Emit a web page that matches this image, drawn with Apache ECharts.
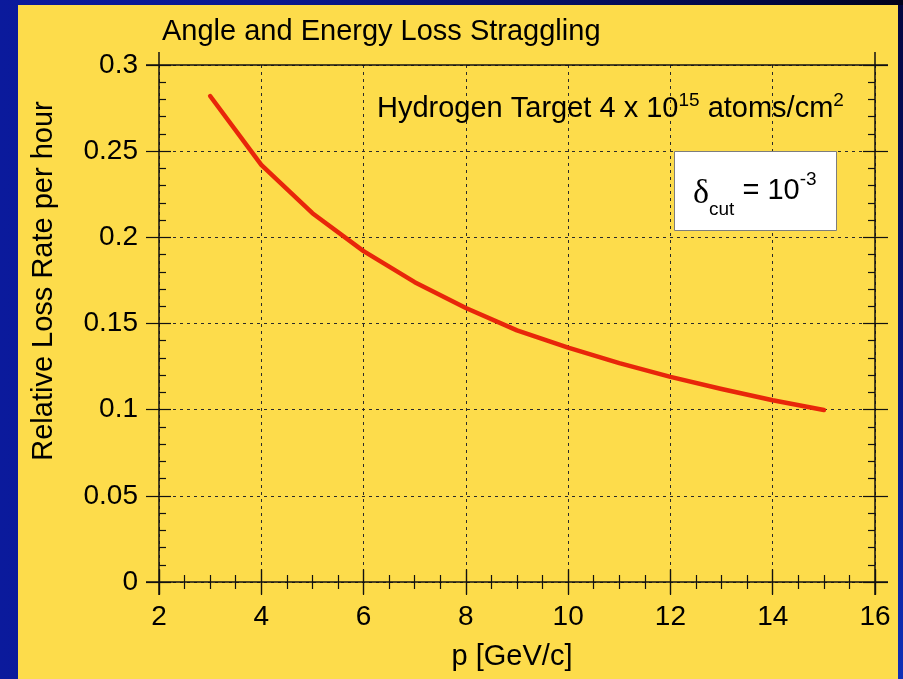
<!DOCTYPE html>
<html>
<head>
<meta charset="utf-8">
<title>Angle and Energy Loss Straggling</title>
<script src="https://cdn.jsdelivr.net/npm/echarts@6/dist/echarts.min.js"></script>
<style>
  html, body { margin: 0; padding: 0; }
  body {
    width: 903px; height: 679px; overflow: hidden; position: relative;
    background: linear-gradient(to right, #0b1a9c 0%, #0a1890 30%, #061066 60%, #020740 85%, #01031c 100%);
  }
  #panel {
    position: absolute; left: 18px; top: 5px; width: 880px; height: 674px;
    background: #fddc4b;
  }
  #edge {
    position: absolute; left: 898px; top: 5px; width: 5px; height: 674px;
    background: linear-gradient(to bottom, #020740 0%, #0a1a8c 60%, #1030b8 100%);
  }
  #chart { position: absolute; left: 0; top: 0; width: 903px; height: 679px; }
</style>
</head>
<body>
<div id="panel"></div>
<div id="edge"></div>
<div id="chart"></div>
<script>
// Momentum p [GeV/c] and relative loss rate per hour
const momentum = [3, 4, 5, 6, 7, 8, 9, 10, 11, 12, 13, 14, 15];
const lossRate = [0.282, 0.242, 0.214, 0.192, 0.174, 0.159, 0.146, 0.136, 0.127, 0.119, 0.112, 0.1055, 0.0998];

// Axis ranges and ticks
const xRange = { min: 2, max: 16, interval: 2 };
const yRange = { min: 0, max: 0.3, interval: 0.05 };

const FONT = '"Liberation Sans", Arial, Helvetica, sans-serif';
const INK = '#111';

const chart = echarts.init(document.getElementById('chart'), null, { renderer: 'canvas' });

const tickStyle = { color: INK, width: 1.2 };
const gridLine = { show: true, lineStyle: { color: '#2a2a2a', width: 1, type: [3, 4] } };

// One axis per side draws the outward half of major ticks (and labels),
// a twin on the same side draws the inward half plus minor ticks.
function outerAxis(range, position, extra) {
  return Object.assign({
    type: 'value', position: position,
    min: range.min, max: range.max, interval: range.interval,
    axisLine: { show: false },
    axisTick: { show: true, inside: false, length: 13, lineStyle: tickStyle },
    minorTick: { show: false },
    splitLine: { show: false },
    axisLabel: { show: false }
  }, extra || {});
}
function innerAxis(range, position, minorSplit) {
  return {
    type: 'value', position: position,
    min: range.min, max: range.max, interval: range.interval,
    axisLine: { show: false },
    axisTick: { show: true, inside: true, length: 12, lineStyle: tickStyle },
    minorTick: { show: true, splitNumber: minorSplit, length: 7, lineStyle: tickStyle },
    splitLine: { show: false },
    axisLabel: { show: false }
  };
}

const labelStyle = { show: true, color: '#000', fontFamily: FONT, fontSize: 28 };

const option = {
  backgroundColor: 'transparent',
  animation: false,
  grid: {
    left: 159, top: 65, width: 716, height: 517,
    containLabel: false, outerBoundsMode: 'none'
  },
  xAxis: [
    outerAxis(xRange, 'bottom', {
      axisLabel: Object.assign({}, labelStyle, { margin: 21 }),
      splitLine: gridLine
    }),
    innerAxis(xRange, 'bottom', 4),
    outerAxis(xRange, 'top'),
    innerAxis(xRange, 'top', 4)
  ],
  yAxis: [
    outerAxis(yRange, 'left', {
      axisLabel: Object.assign({}, labelStyle, { margin: 21 }),
      splitLine: gridLine
    }),
    innerAxis(yRange, 'left', 5),
    outerAxis(yRange, 'right'),
    innerAxis(yRange, 'right', 5)
  ],
  series: [{
    type: 'line',
    xAxisIndex: 0, yAxisIndex: 0,
    data: momentum.map((p, i) => [p, lossRate[i]]),
    showSymbol: false,
    smooth: false,
    lineStyle: { color: '#e8260a', width: 4.5, cap: 'round', join: 'round' },
    z: 5
  }]
};

chart.setOption(option);

// Frame lines, running a little past the plot corners
const xl = chart.convertToPixel({ xAxisIndex: 0 }, xRange.min);
const xr = chart.convertToPixel({ xAxisIndex: 0 }, xRange.max);
const yb = chart.convertToPixel({ yAxisIndex: 0 }, yRange.min);
const yt = chart.convertToPixel({ yAxisIndex: 0 }, yRange.max);
const EXT = 13;
const frameStyle = { stroke: INK, lineWidth: 1.5 };
function seg(x1, y1, x2, y2) {
  return { type: 'line', shape: { x1: x1, y1: y1, x2: x2, y2: y2 }, style: frameStyle, z: 3, silent: true };
}

chart.setOption({
  graphic: [
    seg(xl - EXT, yb, xr + EXT, yb),
    seg(xl - EXT, yt, xr + EXT, yt),
    seg(xl, yt - EXT, xl, yb + EXT),
    seg(xr, yt - EXT, xr, yb + EXT),
    {
      type: 'text', x: 162, y: 31.5, z: 10,
      style: { text: 'Angle and Energy Loss Straggling', font: '29px ' + FONT, fill: '#000', align: 'left', verticalAlign: 'middle' }
    },
    {
      type: 'text', x: 512, y: 657, z: 10,
      style: { text: 'p [GeV/c]', font: '29px ' + FONT, fill: '#000', align: 'center', verticalAlign: 'middle' }
    },
    {
      type: 'text', x: 43.5, y: 281, rotation: Math.PI / 2, z: 10,
      style: { text: 'Relative Loss Rate per hour', font: '29px ' + FONT, fill: '#000', align: 'center', verticalAlign: 'middle' }
    },
    {
      type: 'text', x: 377, y: 108.5, z: 10,
      style: {
        text: '{m|Hydrogen Target 4 x 10}{s|15}{m| atoms/cm}{s|2}',
        align: 'left', verticalAlign: 'middle',
        rich: {
          m: { fontFamily: FONT, fontSize: 29, lineHeight: 40, color: '#000', verticalAlign: 'middle' },
          s: { fontFamily: FONT, fontSize: 19, lineHeight: 24, height: 24, color: '#000', verticalAlign: 'top' }
        }
      }
    },
    {
      type: 'rect', z: 9,
      shape: { x: 674.5, y: 151.5, width: 162, height: 79 },
      style: { fill: '#ffffff', stroke: '#7d7d7d', lineWidth: 1 }
    },
    {
      type: 'text', x: 693, y: 190.5, z: 10,
      style: {
        text: '{d|δ}{b|cut}{m| = 10}{p|-3}',
        align: 'left', verticalAlign: 'middle',
        rich: {
          d: { fontFamily: '"Liberation Serif", "Times New Roman", serif', fontSize: 34, lineHeight: 56, height: 48, color: '#000', verticalAlign: 'bottom' },
          b: { fontFamily: FONT, fontSize: 19, lineHeight: 18, height: 18, color: '#000', verticalAlign: 'bottom' },
          m: { fontFamily: FONT, fontSize: 29, lineHeight: 56, color: '#000', verticalAlign: 'middle' },
          p: { fontFamily: FONT, fontSize: 19, lineHeight: 35, height: 35, color: '#000', verticalAlign: 'top' }
        }
      }
    }
  ]
});
</script>
</body>
</html>
